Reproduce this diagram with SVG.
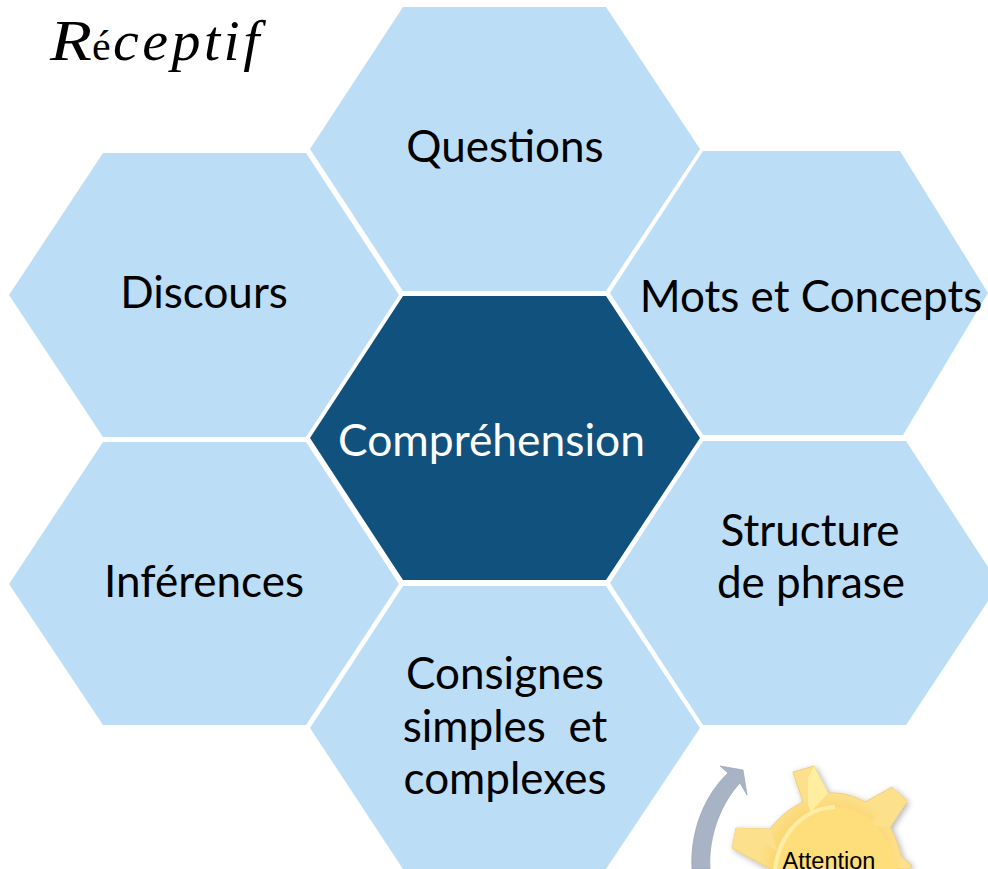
<svg xmlns="http://www.w3.org/2000/svg" width="988" height="869" viewBox="0 0 988 869">
<defs>
<style>
.hex{fill:#bcddf6}
.lbl{font-family:Lato,"Open Sans","Liberation Sans",sans-serif;font-size:44px;fill:#000;text-anchor:middle;white-space:pre}
.ttl{font-family:"Liberation Serif",serif;fill:#000}
</style>
<filter id="soft" x="-10%" y="-10%" width="120%" height="120%"><feDropShadow dx="2" dy="2" stdDeviation="3" flood-color="#000" flood-opacity="0.3"/></filter>
<radialGradient id="gearRing" gradientUnits="userSpaceOnUse" cx="830" cy="865" r="72"><stop offset="0.8" stop-color="#fbd877"/><stop offset="1" stop-color="#fde08c"/></radialGradient>
</defs>
<rect width="988" height="869" fill="#fff"/>
<g id="node-questions"><polygon class="hex" points="403,7 606,7 700,149 606,291 403,291 310,149"/><text class="lbl" x="505" y="162">Questions</text></g>
<g id="node-discours"><polygon class="hex" points="103,153 306,153 399,295 306,437 103,437 9,295"/><text class="lbl" x="204" y="308">Discours</text></g>
<g id="node-mots"><polygon class="hex" points="703,151 900,151 988,293 903,435 703,435 610,293"/><text class="lbl" x="811" y="312">Mots et Concepts</text></g>
<g id="node-comprehension"><polygon points="403,296 606,296 700,438 606,580 403,580 310,438" fill="#10517d"/><text class="lbl" x="491.500" y="456" style="fill:#fff" textLength="307" lengthAdjust="spacingAndGlyphs">Compréhension</text></g>
<g id="node-inferences"><polygon class="hex" points="103,442 306,442 399,584 306,725 103,725 9,584"/><text class="lbl" x="204" y="597">Inférences</text></g>
<g id="node-structure"><polygon class="hex" points="703,441 906,441 988,567 988,601 906,725 703,725 610,583"/><text class="lbl" x="810" y="546">Structure</text><text class="lbl" x="811" y="598">de phrase</text></g>
<g id="node-consignes"><polygon class="hex" points="403,586 606,586 700,728 606,869 403,869 310,728"/><text class="lbl" x="505" y="689">Consignes</text><text class="lbl" x="505" y="742">simples  et</text><text class="lbl" x="505" y="794">complexes</text></g>
<g id="title"><text class="ttl" x="50" y="60" font-size="56" font-style="italic" textLength="42" lengthAdjust="spacingAndGlyphs">R</text><text class="ttl" x="92" y="60" font-size="42">é</text><text class="ttl" x="113" y="60" font-size="58" font-style="italic" letter-spacing="3.500">ceptif</text></g>
<g id="connectors"><path d="M720,766 L743,770 L747,795 L740,783 C722,802 708,835 710,869 L692,869 C690,830 705,795 728,773 Z" fill="#a8b3c5" stroke="#97a3b6" stroke-width="0.7"/></g>
<g id="node-attention">
<path filter="url(#soft)" d="M793,772 L814,766 L828,793 C842,792 854,796 865,802 L892,787 L907,801 L890,827 C895,836 899,846 901,856 L912,866 L908,869 L770,869 L732,848 L736,828 L770,829 C778,818 790,808 803,802 Z" fill="url(#gearRing)" stroke="#e9c96c" stroke-width="0.8"/>
<polygon points="814,766 808,778 808,805 811,812 828,793" fill="#ffeda0"/>
<polygon points="892,787 907,801 890,827 866,825 888,808" fill="#fde08a"/>
<polygon points="732,848 736,828 770,829 777,850 752,840" fill="#fce08c"/>
<path d="M775,869 C780,832 805,808 835,807 C865,807 888,830 897,869 Z" fill="#fedd7b"/>
<path d="M775,869 C780,832 805,808 835,807" fill="none" stroke="#ffeda6" stroke-width="4"/>
<text x="829" y="869" font-family="Liberation Sans,sans-serif" font-size="23.500" fill="#000" text-anchor="middle">Attention</text>
</g>
</svg>
